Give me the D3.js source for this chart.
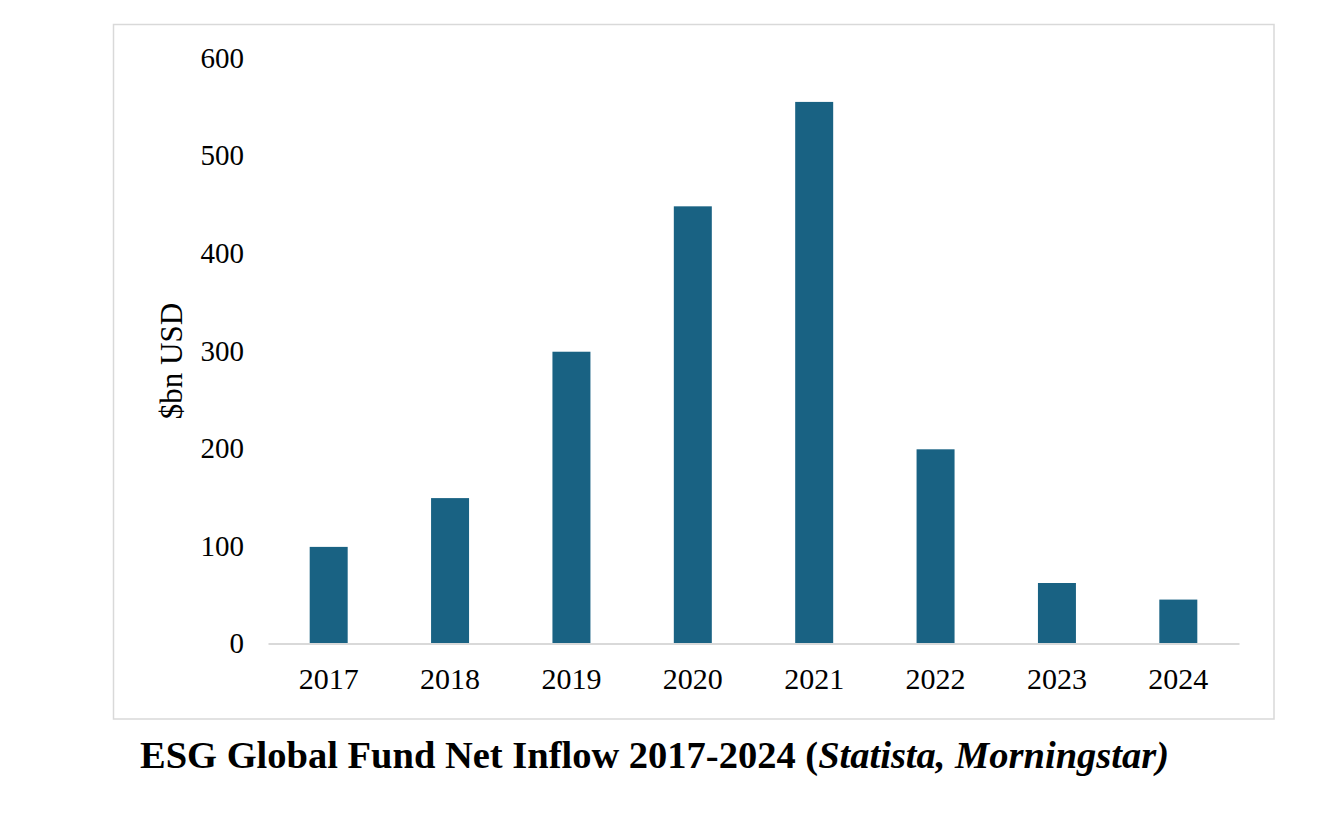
<!DOCTYPE html>
<html><head><meta charset="utf-8">
<script src="https://cdn.jsdelivr.net/npm/d3@7"></script>
<style>body{margin:0;background:#fff;}svg{display:block;}</style>
</head><body>
<svg id="c" width="1340" height="814"></svg>
<script>
const years = ["2017","2018","2019","2020","2021","2022","2023","2024"];
const inflows = [99, 149, 299, 448, 555, 199, 62, 45];
const yTicks = [0, 100, 200, 300, 400, 500, 600];
const yLabel = "$bn USD";
const titleMain = "ESG Global Fund Net Inflow 2017-2024 (";
const titleItalic = "Statista, Morningstar)";

const svg = d3.select("#c");
const font = "'Liberation Serif','Times New Roman',serif";
const barColor = "#196283";

svg.append("rect").attr("x",113.5).attr("y",24.5).attr("width",1160.5).attr("height",694.5)
  .attr("fill","#fff").attr("stroke","#d9d9d9").attr("stroke-width",1.5);

const x = d3.scaleBand().domain(years).range([268,1239]).paddingInner(0.687).paddingOuter(0.3435);
const y = d3.scaleLinear().domain([0,600]).range([643.5,58]);

svg.append("g").selectAll("rect").data(years).join("rect")
  .attr("x",d=>x(d)).attr("width",x.bandwidth())
  .attr("y",(d,i)=>y(inflows[i])).attr("height",(d,i)=>y(0)-y(inflows[i]))
  .attr("fill",barColor);

const xAxis = svg.append("g").attr("transform",`translate(0,${y(0)})`)
  .call(d3.axisBottom(x).tickSize(0).tickPadding(24));
xAxis.select(".domain").attr("stroke","#d9d9d9").attr("stroke-width",2);
xAxis.selectAll("text").attr("font-family",font).attr("font-size",30).attr("fill","#000");

const yAxis = svg.append("g").attr("transform",`translate(268,0)`)
  .call(d3.axisLeft(y).tickValues(yTicks).tickSize(0).tickPadding(24));
yAxis.select(".domain").remove();
yAxis.selectAll("text").attr("font-family",font).attr("font-size",29).attr("fill","#000");

svg.append("text").attr("transform","translate(182,361) rotate(-90)")
  .attr("text-anchor","middle").attr("font-family",font).attr("font-size",31).attr("fill","#000")
  .text(yLabel);

const t = svg.append("text").attr("x",140).attr("y",768).attr("font-family",font)
  .attr("font-size",38.5).attr("font-weight","bold").attr("fill","#000");
t.append("tspan").text(titleMain);
t.append("tspan").attr("font-style","italic").text(titleItalic);
</script>
</body></html>
